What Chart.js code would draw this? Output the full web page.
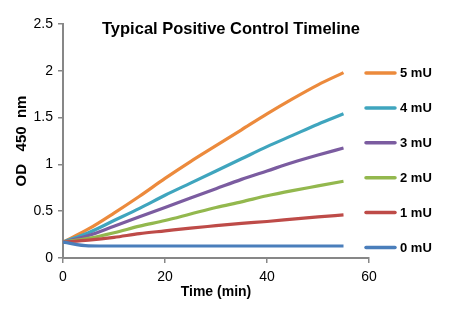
<!DOCTYPE html>
<html>
<head>
<meta charset="utf-8">
<script src="https://cdn.jsdelivr.net/npm/chart.js@4.4.1/dist/chart.umd.min.js"></script>
<style>
  html, body { margin: 0; padding: 0; background: #ffffff; }
  #wrap { width: 463px; height: 324px; position: relative; }
</style>
</head>
<body>
<div id="wrap"><canvas id="c" width="463" height="324"></canvas></div>
<script>
// ---- data ----
const times = [0, 5, 10, 15, 20, 25, 30, 35, 40, 45, 50, 55];
const labels = ['0 mU', '1 mU', '2 mU', '3 mU', '4 mU', '5 mU'];
const s0 = [0.17, 0.13, 0.128, 0.128, 0.128, 0.128, 0.128, 0.128, 0.128, 0.128, 0.128, 0.128];
const s1 = [0.17, 0.19, 0.22, 0.26, 0.29, 0.32, 0.345, 0.37, 0.39, 0.415, 0.44, 0.46];
const s2 = [0.17, 0.21, 0.27, 0.34, 0.40, 0.47, 0.54, 0.60, 0.665, 0.72, 0.77, 0.82];
const s3 = [0.17, 0.24, 0.34, 0.44, 0.54, 0.64, 0.74, 0.84, 0.93, 1.02, 1.10, 1.175];
const s4 = [0.17, 0.27, 0.40, 0.53, 0.67, 0.80, 0.93, 1.06, 1.19, 1.31, 1.43, 1.54];
const s5 = [0.17, 0.31, 0.48, 0.66, 0.85, 1.03, 1.20, 1.37, 1.54, 1.70, 1.85, 1.98];
const xTicks = [0, 20, 40, 60];
const yTicks = [0, 0.5, 1, 1.5, 2, 2.5];
const chartTitle = 'Typical Positive Control Timeline';
const xTitle = 'Time (min)';
const yTitle = 'OD   450  nm';

const seriesValues = [s0, s1, s2, s3, s4, s5];
const colors = ['#4A7EBB', '#BE4B48', '#93B84E', '#7B5CA0', '#3FA5BE', '#EC8A3C'];

const datasets = seriesValues.map((vals, i) => ({
  label: labels[i],
  data: times.map((t, j) => ({ x: t, y: vals[j] })),
  borderColor: colors[i],
  backgroundColor: colors[i],
  borderWidth: 3.2,
  pointRadius: 0,
  fill: false,
  cubicInterpolationMode: 'monotone'
}));

const AXIS = '#878787';
const FAM = '"Liberation Sans", Arial, sans-serif';

const overlay = {
  id: 'overlay',
  afterDraw(chart) {
    const ctx = chart.ctx;
    ctx.save();
    ctx.font = 'bold 16px ' + FAM;
    ctx.fillStyle = '#000';
    ctx.textAlign = 'center';
    ctx.textBaseline = 'middle';
    const w = ctx.measureText(chartTitle).width;
    const sx = 258 / w;
    ctx.translate(231, 29);
    ctx.scale(sx, 1.05);
    ctx.fillText(chartTitle, 0, 0);
    ctx.restore();

    ctx.save();
    const ds = chart.data.datasets;
    ctx.font = 'bold 13px ' + FAM;
    ctx.textAlign = 'left';
    ctx.textBaseline = 'middle';
    for (let k = 0; k < ds.length; k++) {
      const d = ds[ds.length - 1 - k];
      const y = 73 + k * 34.9;
      ctx.strokeStyle = d.borderColor;
      ctx.lineWidth = 3.5;
      ctx.lineCap = 'round';
      ctx.beginPath();
      ctx.moveTo(366, y);
      ctx.lineTo(395, y);
      ctx.stroke();
      ctx.fillStyle = '#000';
      ctx.fillText(d.label, 400, y + 0.5);
    }
    ctx.restore();
  }
};

new Chart(document.getElementById('c'), {
  type: 'line',
  data: { datasets },
  options: {
    responsive: false,
    animation: false,
    devicePixelRatio: 1,
    layout: { padding: { top: 24, right: 94, left: 0, bottom: 0 } },
    plugins: {
      legend: { display: false },
      title: { display: false },
      tooltip: { enabled: false }
    },
    scales: {
      x: {
        type: 'linear',
        min: 0, max: 60,
        afterBuildTicks(scale) { scale.ticks = xTicks.map(v => ({ value: v })); },
        afterFit(scale) { scale.height = 66; },
        grid: { display: true, drawOnChartArea: false, drawTicks: true, tickLength: 5, color: AXIS, lineWidth: 1.5 },
        border: { display: true, color: AXIS, width: 2 },
        ticks: { color: '#000', padding: 6, font: { size: 14, family: FAM }, maxRotation: 0, callback: v => String(v) },
        title: { display: true, text: xTitle, color: '#000', padding: { top: 0, bottom: 23 }, font: { size: 14, weight: 'bold', family: FAM } }
      },
      y: {
        type: 'linear',
        min: 0, max: 2.5,
        afterBuildTicks(scale) { scale.ticks = yTicks.map(v => ({ value: v })); },
        afterFit(scale) { scale.width = 63; },
        grid: { display: true, drawOnChartArea: false, drawTicks: true, tickLength: 5, color: AXIS, lineWidth: 1.5 },
        border: { display: true, color: AXIS, width: 2 },
        ticks: { color: '#000', padding: 5, font: { size: 14, family: FAM }, callback: v => String(v) },
        title: { display: true, text: yTitle, color: '#000', padding: { top: 13, bottom: 0 }, font: { size: 15, weight: 'bold', family: FAM } }
      }
    }
  },
  plugins: [overlay]
});
</script>
</body>
</html>
